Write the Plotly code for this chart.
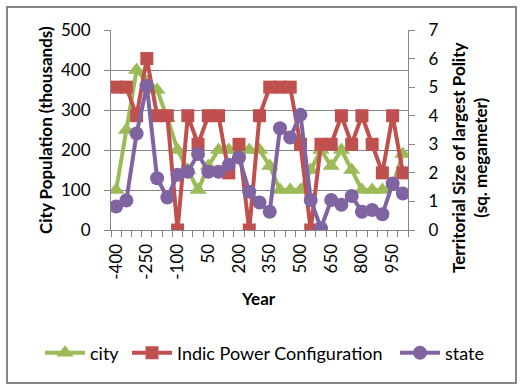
import plotly.graph_objects as go

years = list(range(-400, 1001, 50))
city = [100, 250, 400, 370, 350, 280, 200, 150, 100, 160, 200, 200, 200, 200, 200,
        160, 100, 100, 100, 150, 200, 160, 200, 150, 100, 100, 100, 110, 190]
indic = [5, 5, 4, 6, 4, 4, 0, 4, 3, 4, 4, 2, 3, 0, 4, 5, 5, 5, 3, 0, 3, 3, 4, 3, 4, 3, 2, 4, 2]
state = [0.82, 1.03, 3.38, 5.04, 1.81, 1.14, 1.93, 2.04, 2.66, 2.04, 2.04, 2.28, 2.54, 1.34,
         0.96, 0.64, 3.56, 3.24, 4.03, 1.05, 0.06, 1.05, 0.88, 1.19, 0.64, 0.70, 0.55, 1.63, 1.28]
tick_years = years[::3]
tick_labels = [str(y) for y in tick_years]

GREEN = "#9BBB59"
RED = "#C0504D"
PURPLE = "#8064A2"
GRAY = "#868686"
FONT = "Lato"

fig = go.Figure()
fig.add_trace(go.Scatter(x=years, y=city, name="city", mode="lines+markers",
                         legend="legend",
                         line=dict(color=GREEN, width=4),
                         marker=dict(symbol="triangle-up", size=15, color=GREEN)))
fig.add_trace(go.Scatter(x=years, y=indic, name="Indic Power Configuration", mode="lines+markers",
                         legend="legend2", yaxis="y2", line=dict(color=RED, width=4),
                         marker=dict(symbol="square", size=13, color=RED)))
fig.add_trace(go.Scatter(x=years, y=state, name="state", mode="lines+markers",
                         legend="legend3", yaxis="y2", line=dict(color=PURPLE, width=4),
                         marker=dict(symbol="circle", size=14, color=PURPLE)))


def leg(px_left):
    return dict(orientation="h", xref="container", yref="container",
                x=px_left / 522, xanchor="left", y=1 - 353 / 390, yanchor="middle",
                font=dict(size=18), itemwidth=40, bgcolor="rgba(0,0,0,0)", borderwidth=0)


fig.update_layout(
    width=522, height=390,
    margin=dict(l=111, r=114, t=30, b=160, autoexpand=False),
    paper_bgcolor="white", plot_bgcolor="white",
    font=dict(family=FONT, size=17, color="black"),
    showlegend=True,
    legend=leg(40),
    legend2=leg(127),
    legend3=leg(395),
    xaxis=dict(range=[-425, 1025], tickmode="array", tickvals=tick_years, ticktext=tick_labels,
               tickangle=-90, ticks="", showgrid=False, zeroline=False,
               showline=True, linecolor=GRAY, linewidth=1,
               ticklabelstandoff=6,
               minor=dict(ticks="outside", tick0=-425, dtick=50, ticklen=6,
                          tickcolor=GRAY, showgrid=False)),
    yaxis=dict(range=[0, 500], tickmode="linear", tick0=0, dtick=100,
               showgrid=True, gridcolor=GRAY, gridwidth=1, zeroline=False,
               ticks="outside", ticklen=6, tickcolor=GRAY,
               showline=True, linecolor=GRAY, ticklabelstandoff=10),
    yaxis2=dict(range=[0, 7], tickmode="linear", tick0=0, dtick=1, overlaying="y", side="right",
                showgrid=False, zeroline=False, ticks="outside", ticklen=6, tickcolor=GRAY,
                showline=True, linecolor=GRAY, ticklabelstandoff=10),
)

annotations = [
    dict(text="<b>City Population (thousands)</b>", x=(45 - 111) / 297, y=0.5,
         xref="paper", yref="paper", textangle=-90, showarrow=False,
         xanchor="center", yanchor="middle", font=dict(size=17)),
    dict(text="<b>Territorial Size of largest Polity<br>(sq. megameter)</b>",
         x=(469 - 111) / 297, y=(230 - 158) / 200,
         xref="paper", yref="paper", textangle=-90, showarrow=False,
         xanchor="center", yanchor="middle", font=dict(size=17)),
    dict(text="<b>Year</b>", x=(258 - 111) / 297, y=(230 - 298) / 200,
         xref="paper", yref="paper", showarrow=False,
         xanchor="center", yanchor="middle", font=dict(size=17)),
]
fig.update_layout(annotations=annotations)

fig.add_shape(type="rect", xref="paper", yref="paper",
              x0=(7 - 111) / 297, x1=(516 - 111) / 297,
              y0=(230 - 383) / 200, y1=(230 - 7) / 200,
              line=dict(color=GRAY, width=2), fillcolor="rgba(0,0,0,0)", layer="below")

fig.write_html("out.html", config={"displayModeBar": False},
               post_script="document.body.style.margin='0';")
